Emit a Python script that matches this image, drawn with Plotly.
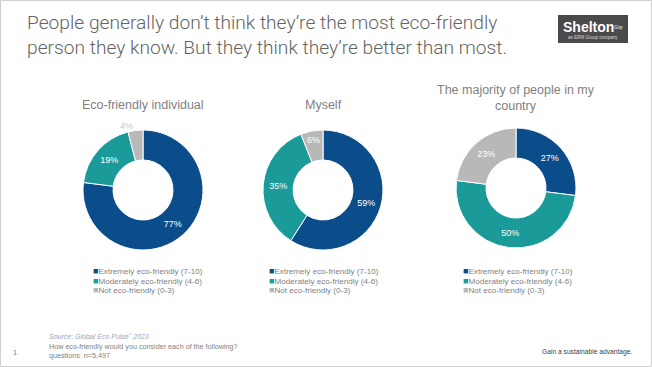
import plotly.graph_objects as go

W, H = 652, 367

categories = ["Extremely eco-friendly (7-10)", "Moderately eco-friendly (4-6)", "Not eco-friendly (0-3)"]
eco_individual = [77, 19, 4]
myself = [59, 35, 6]
majority = [27, 50, 23]
chart_titles = ["Eco-friendly individual", "Myself", "The majority of people in my<br>country"]
colors = ["#0B4C8A", "#1A9A98", "#B8B8B8"]

# pixel centres / radius of each donut
centers = [(143, 190), (323, 190), (516, 188)]
R = 60

def px(x):
    return x / W

def py(y):
    return (H - y) / H

def dom(cx, cy):
    return dict(x=[px(cx - R), px(cx + R)], y=[py(cy + R), py(cy - R)])

fig = go.Figure()
series = [eco_individual, myself, majority]
for i, vals in enumerate(series):
    cx, cy = centers[i]
    if i == 0:
        tpos = ["inside", "inside", "outside"]
        tcol = ["white", "white", "#C8C8C8"]
    else:
        tpos = ["inside"] * 3
        tcol = ["white"] * 3
    fig.add_trace(go.Pie(
        labels=categories, values=vals, hole=0.5, sort=False, direction="clockwise",
        rotation=0, domain=dom(cx, cy),
        marker=dict(colors=colors, line=dict(color="white", width=1)),
        texttemplate="%{value}%", textposition=tpos, insidetextorientation="horizontal",
        textfont=dict(color=tcol, size=9, family="Liberation Sans"),
        showlegend=False, hoverinfo="label+value",
    ))

annotations = []
# legends (one per donut), drawn as text with coloured square glyphs
legend_x = [91, 267, 461]
legend_rows = [271, 280.5, 290]
for lx in legend_x:
    for cat, col, ly in zip(categories, colors, legend_rows):
        annotations.append(dict(
            text=f"<span style='color:{col};font-size:9px'>■</span>{cat}",
            x=px(lx), y=py(ly), xref="paper", yref="paper", showarrow=False,
            xanchor="left", yanchor="middle",
            font=dict(size=8.1, color="#7F7F7F", family="Liberation Sans")))

# chart titles
title_pos = [(143, 105), (323, 105), (516, 98)]
for t, (x, y) in zip(chart_titles, title_pos):
    annotations.append(dict(text=t, x=px(x), y=py(y), xref="paper", yref="paper",
                            showarrow=False, xanchor="center", yanchor="middle",
                            font=dict(size=12.5, color="#7F7F7F", family="Liberation Sans")))
# main title
annotations.append(dict(text="People generally don’t think they’re the most eco-friendly<br>person they know. But they think they’re better than most.",
                        x=px(25), y=py(35), xref="paper", yref="paper", showarrow=False,
                        xanchor="left", yanchor="middle", align="left",
                        font=dict(size=19.2, color="#636363", family="Roboto", weight=300)))
# logo
annotations.append(dict(text="<b>Shelton</b><span style='font-size:7px'><sup>Grp</sup></span>", x=px(593), y=py(27),
                        xref="paper", yref="paper", showarrow=False, xanchor="center", yanchor="middle",
                        font=dict(size=14, color="white", family="Liberation Sans")))
annotations.append(dict(text="an ERM Group company", x=px(593), y=py(38),
                        xref="paper", yref="paper", showarrow=False, xanchor="center", yanchor="middle",
                        font=dict(size=4.5, color="#DDDDDD", family="Liberation Sans")))
# footer
annotations.append(dict(text="<i>Source: Global Eco Pulse˚ 2023</i>", x=px(47), y=py(336.5),
                        xref="paper", yref="paper", showarrow=False, xanchor="left", yanchor="middle",
                        font=dict(size=7, color="#9AA4B8", family="Liberation Sans")))
annotations.append(dict(text="How eco-friendly would you consider each of the following?<br>questions  n=5,497",
                        x=px(47), y=py(351), xref="paper", yref="paper", showarrow=False,
                        xanchor="left", yanchor="middle", align="left",
                        font=dict(size=7.2, color="#7F7F7F", family="Liberation Sans")))
annotations.append(dict(text="1", x=px(11), y=py(352), xref="paper", yref="paper",
                        showarrow=False, xanchor="left", yanchor="middle",
                        font=dict(size=7.5, color="#7F7F7F", family="Liberation Sans")))
annotations.append(dict(text="Gain a sustainable advantage.", x=px(540), y=py(352),
                        xref="paper", yref="paper", showarrow=False, xanchor="left", yanchor="middle",
                        font=dict(size=6.7, color="#404040", family="Liberation Sans")))

shapes = [
    dict(type="rect", xref="paper", yref="paper", x0=px(558), x1=px(628),
         y0=py(43), y1=py(15), fillcolor="#4A4A4A", line=dict(width=0), layer="below"),
    dict(type="rect", xref="paper", yref="paper", x0=px(0.5), x1=px(W - 0.5),
         y0=py(H - 0.5), y1=py(0.5), line=dict(color="#D0D0D0", width=1)),
]

fig.update_layout(width=W, height=H, margin=dict(l=0, r=0, t=0, b=0),
                  paper_bgcolor="white", plot_bgcolor="white", showlegend=False,
                  annotations=annotations, shapes=shapes)

fig.write_html("out.html", config={"displayModeBar": False},
               post_script="document.body.style.margin='0';")
